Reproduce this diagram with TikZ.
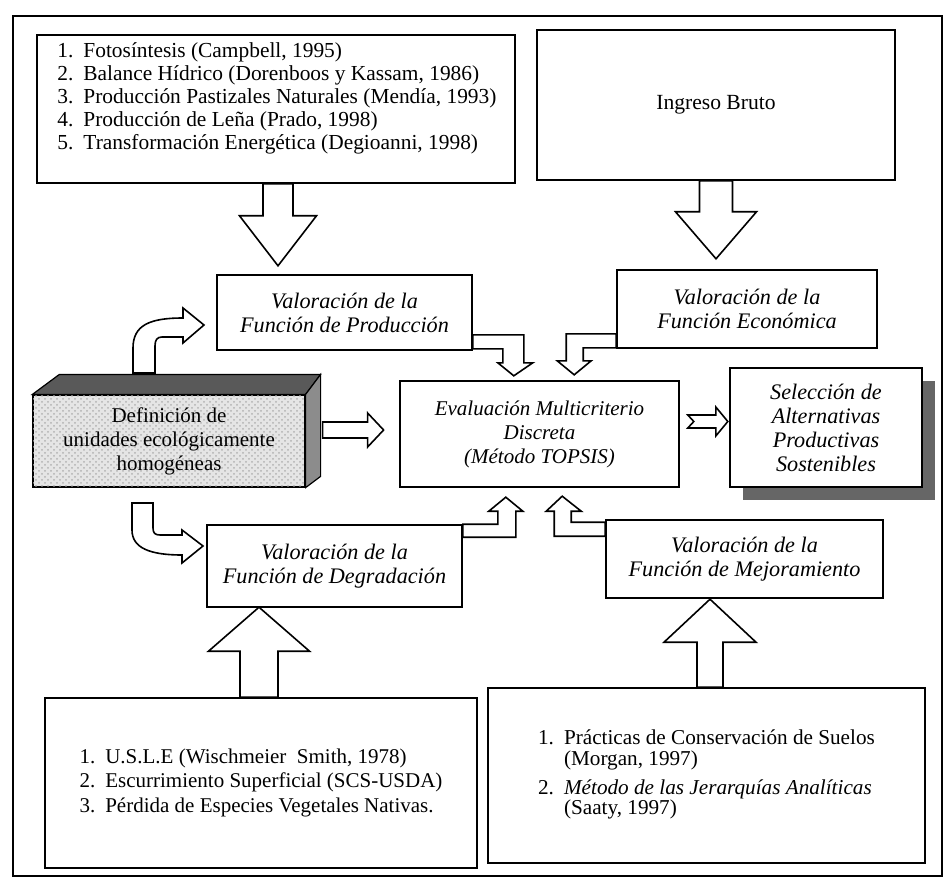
\documentclass[tikz,border=0pt]{standalone}
\usepackage{fontspec}
\setmainfont{Liberation Serif}
\usetikzlibrary{calc,shadows,patterns}
\newcommand{\txt}{\fontsize{10.5}{12}\selectfont}
\newcommand{\bigtxt}{\fontsize{11.1}{12}\selectfont}
% straight block arrows: base, half shaft, shaft length, half head, head length
\newcommand{\vblock}[5]{\draw[fat] #1 ++(-#2,0) -- ++(0,#3) -- ++({#2-#4},0) -- ++(#4,#5) -- ++(#4,{-1*(#5)}) -- ++({#2-#4},0) -- ++(0,{-1*(#3)}) -- cycle;}
\newcommand{\hblock}[5]{\draw[fat] #1 ++(0,-#2) -- ++(#3,0) -- ++(0,{#2-#4}) -- ++(#5,#4) -- ++({-1*(#5)},#4) -- ++(0,{#2-#4}) -- ++({-1*(#3)},0) -- cycle;}

\begin{document}
\begin{tikzpicture}[
  x=0.5pt,y=-0.5pt,
  every node/.style={font=\txt},
  listbox/.style={draw,line width=0.8pt,inner sep=0pt,align=center},
  listtext/.style={inner sep=0pt,align=left},
  valbox/.style={draw,line width=0.8pt,fill=white,inner sep=0pt,align=center,font=\bigtxt\itshape},
  frontbox/.style={draw,line width=0.6pt,fill=black!10,inner sep=0pt,align=center},
  fat/.style={draw,line width=0.8pt,fill=white,line join=miter}
]
\useasboundingbox (0,0) rectangle (952,882);
\draw[line width=1pt] (13,16) rectangle (942,876);

% input boxes
\node[listbox,minimum width=239pt,minimum height=74pt] (lprod) at (276,109) {};
\node[listtext,anchor=west] (tprod) at (57,99) {\fontsize{10.7}{11.5}\selectfont
  \begin{tabular}{@{}l@{\hspace{5pt}}l@{}}
  1. & Fotosíntesis (Campbell, 1995)\\
  2. & Balance Hídrico (Dorenboos y Kassam, 1986)\\
  3. & Producción Pastizales Naturales (Mendía, 1993)\\
  4. & Producción de Leña (Prado, 1998)\\
  5. & Transformación Energética (Degioanni, 1998)
  \end{tabular}};
\node[listbox,minimum width=179pt,minimum height=75pt,font=\fontsize{10.8}{12}\selectfont] (ingreso) at (716,105) {Ingreso Bruto};

% valuation boxes
\node[valbox,minimum width=127.5pt,minimum height=37.5pt] (vprod) at (344.5,312.5) {Valoración de la\\Función de Producción};
\node[valbox,minimum width=130pt,minimum height=39pt] (veco) at (747,309) {Valoración de la\\Función Económica};
\node[valbox,minimum width=127.5pt,minimum height=41pt] (vdeg) at (334.5,566) {Valoración de la\\Función de Degradación};
\node[valbox,minimum width=138.5pt,minimum height=39pt] (vmej) at (744.5,559) {Valoración de la\\Función de Mejoramiento};

% evaluation and result
\node[valbox,minimum width=139.5pt,minimum height=53pt,font=\txt\itshape] (eval) at (539.5,434) {Evaluación Multicriterio\\Discreta\\(Método TOPSIS)};
\node[valbox,minimum width=96pt,minimum height=59.5pt,
  drop shadow={shadow xshift=6.5pt,shadow yshift=-6.5pt,fill=black!60,opacity=1}] (selec) at (826,427.5)
  {Selección de\\Alternativas\\Productivas\\Sostenibles};

% prism for the ecological units
\node[frontbox,minimum width=136pt,minimum height=46pt,
  postaction={pattern=crosshatch dots,pattern color=black!30}] (defin) at (169,441) {};
\filldraw[fill=black!65,line width=0.6pt] (defin.north west) -- ++(27,-20) -- ($(defin.north east)+(15,-20)$) -- (defin.north east) -- cycle;
\filldraw[fill=black!45,line width=0.6pt] (defin.north east) -- ++(15,-20) -- ++(0,102) -- (defin.south east) -- cycle;
\node[listtext,align=center] (tdefin) at (defin) {Definición de\\unidades ecológicamente\\homogéneas};

% method boxes
\node[listbox,minimum width=216pt,minimum height=85pt] (ldeg) at (261,783) {\fontsize{10.5}{12.25}\selectfont
  \begin{tabular}{@{}l@{\hspace{5pt}}l@{}}
  1. & U.S.L.E (Wischmeier~ Smith, 1978)\\
  2. & Escurrimiento Superficial (SCS-USDA)\\
  3. & Pérdida de Especies Vegetales Nativas.
  \end{tabular}};
\node[listbox,minimum width=218.5pt,minimum height=87.5pt] (lmej) at (706.5,775.5) {\fontsize{10.6}{10}\selectfont
  \begin{tabular}{@{}l@{\hspace{5pt}}l@{}}
  1. & Prácticas de Conservación de Suelos\\
     & (Morgan, 1997)\\[4pt]
  2. & \textit{Método de las Jerarquías Analíticas}\\
     & (Saaty, 1997)
  \end{tabular}};

% big arrows
\vblock{($(lprod.south)+(2,0)$)}{15}{32}{38.5}{50}
\vblock{(ingreso.south)}{16.5}{31}{40.5}{47}
\vblock{($(ldeg.north)+(-2,0)$)}{19}{-46}{50.5}{-44}
\vblock{($(lmej.north)+(3.5,0)$)}{13}{-45}{46}{-43}
\hblock{($(defin.east)+(17,-11)$)}{8}{45}{17}{16}

% elbow arrows into the evaluation
\draw[fat] ($(vprod.south east)+(0,-16)$) -- ++(51,0) -- ++(0,28) -- ++(9,0) -- ++(-19,13) -- ++(-16,-13) -- ++(5,0) -- ++(0,-14) -- ++(-30,0) -- cycle;
\draw[fat] ($(veco.south west)+(0,-15)$) -- ++(-50,0) -- ++(0,27) -- ++(-9,0) -- ++(17,14) -- ++(17,-14) -- ++(-8,0) -- ++(0,-13) -- ++(33,0) -- cycle;
\draw[fat] (vdeg.north east) -- ++(35,0) -- ++(0,-13) -- ++(-9,0) -- ++(17,-14) -- ++(17,14) -- ++(-7,0) -- ++(0,26) -- ++(-53,0) -- cycle;
\draw[fat] ($(vmej.north west)+(0,3)$) -- ++(-34,0) -- ++(0,-11) -- ++(10,0) -- ++(-19,-15) -- ++(-16,15) -- ++(8,0) -- ++(0,25) -- ++(51,0) -- cycle;

% curved arrows out of the prism
\draw[fat] (133,373) -- (133,348) .. controls (133,325) and (150,318) .. (183,318) -- (183,308) -- (204,325) -- (183,343) -- (183,337) -- (162,337) .. controls (157,337) and (155,340) .. (155,346) -- (155,373) -- cycle;
\draw[fat] (132,503) -- (132,530) .. controls (132,548) and (150,555) .. (182,555) -- (182,563) -- (203,546) -- (182,530) -- (182,535) -- (160,535) .. controls (155,535) and (153,533) .. (153,528) -- (153,503) -- cycle;

% notched arrow to the selection
\draw[fat] ($(eval.east)+(8,-19)$) -- ++(28,0) -- ++(0,-8) -- ++(12,14.5) -- ++(-12,14.5) -- ++(0,-8) -- ++(-28,0) -- ++(6,-6.5) -- cycle;
\end{tikzpicture}
\end{document}
